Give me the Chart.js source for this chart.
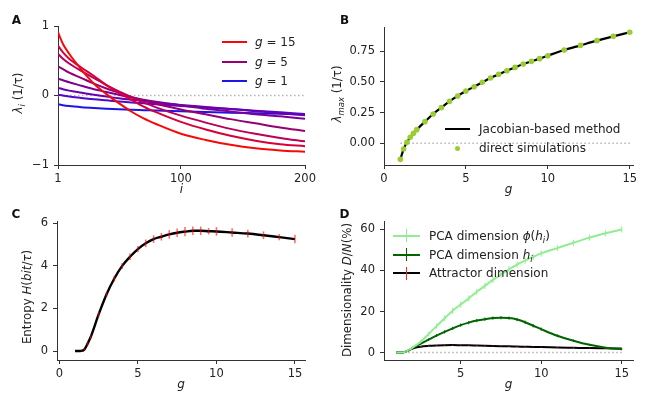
<!DOCTYPE html>
<html>
<head>
<meta charset="utf-8">
<title>Lyapunov spectra, entropy and dimensionality</title>
<script src="https://cdn.jsdelivr.net/npm/chart.js@4.4.1/dist/chart.umd.min.js"></script>
<style>
  body { margin: 0; background: #fff; }
  #fig { position: relative; width: 647px; height: 394px; overflow: hidden;
         font-family: "DejaVu Sans", sans-serif; font-size: 11.5px; color: #222; }
  #fig canvas { position: absolute; left: 0; top: 0; }
  .txt { position: absolute; white-space: nowrap; line-height: 1; font-size: 12px; transform: translateY(-50%); }
  .panel { position: absolute; font-weight: bold; font-size: 12px; line-height: 1; color: #111; transform: translate(-50%, -50%); }
  .ytitle { position: absolute; white-space: nowrap; line-height: 1; font-size: 11.8px; transform: translate(-50%, -50%) rotate(-90deg); }
  .swatch { position: absolute; height: 0; border-top: 2px solid; transform: translateY(-50%); }
  .tick { position: absolute; width: 0; border-left: 1.5px solid; }
  .dot { position: absolute; width: 5px; height: 5px; border-radius: 50%; background: #9acd32; }
  sub { font-size: 72%; vertical-align: -0.3em; line-height: 0; }
</style>
</head>
<body>
<div id="fig">
  <canvas id="chartA" width="647" height="394"></canvas>
  <canvas id="chartB" width="647" height="394"></canvas>
  <canvas id="chartC" width="647" height="394"></canvas>
  <canvas id="chartD" width="647" height="394"></canvas>

  <div class="panel" style="left:16.5px;top:19.5px">A</div>
  <div class="panel" style="left:344.5px;top:19.5px">B</div>
  <div class="panel" style="left:16px;top:213.5px">C</div>
  <div class="panel" style="left:344.5px;top:213.5px">D</div>

  <div class="ytitle" style="left:19px;top:93px"><i>λ<sub>i</sub></i> (1/τ)</div>
  <div class="ytitle" style="left:338px;top:94px"><i>λ<sub>max</sub></i> (1/τ)</div>
  <div class="ytitle" style="left:28px;top:297px">Entropy <i>H</i>(<i>bit</i>/<i>τ</i>)</div>
  <div class="ytitle" style="left:348px;top:290px">Dimensionality <i>D</i>/<i>N</i>(%)</div>

  <!-- legend A -->
  <div class="swatch" style="left:222px;top:42px;width:25px;border-color:rgb(245,10,10)"></div>
  <div class="txt" style="left:255px;top:42px"><i>g</i> = 15</div>
  <div class="swatch" style="left:222px;top:62px;width:25px;border-color:rgb(150,0,115)"></div>
  <div class="txt" style="left:255px;top:62px"><i>g</i> = 5</div>
  <div class="swatch" style="left:222px;top:81px;width:25px;border-color:rgb(30,20,230)"></div>
  <div class="txt" style="left:255px;top:81px"><i>g</i> = 1</div>

  <!-- legend B -->
  <div class="swatch" style="left:445px;top:129px;width:25px;border-color:#000"></div>
  <div class="txt" style="left:479px;top:129px">Jacobian-based method</div>
  <div class="dot" style="left:454.5px;top:145.5px"></div>
  <div class="txt" style="left:479px;top:148px">direct simulations</div>

  <!-- legend D -->
  <div class="swatch" style="left:393px;top:236px;width:27px;border-color:#90ee90"></div>
  <div class="tick" style="left:406px;top:229px;height:13px;border-color:#90ee90"></div>
  <div class="txt" style="left:429px;top:236px">PCA dimension <i>ϕ</i>(<i>h<sub>i</sub></i>)</div>
  <div class="swatch" style="left:393px;top:254.5px;width:27px;border-color:#006400"></div>
  <div class="tick" style="left:406px;top:248px;height:13px;border-color:#006400"></div>
  <div class="txt" style="left:429px;top:254.5px">PCA dimension <i>h<sub>i</sub></i></div>
  <div class="swatch" style="left:393px;top:273px;width:27px;border-color:#000"></div>
  <div class="tick" style="left:406px;top:266.5px;height:13px;border-color:#ff2020"></div>
  <div class="txt" style="left:429px;top:273px">Attractor dimension</div>
</div>

<script>
// ---- data ----

// panel A: Lyapunov spectra, value of lambda_i at neuron index i
const iIdx = [1, 5, 10, 20, 30, 40, 50, 60, 70, 80, 100, 120, 140, 160, 180, 200];
const gA = [1, 1.5, 2, 3, 5, 8, 10, 15];
const lamG1   = [-0.125, -0.14, -0.152, -0.168, -0.18, -0.19, -0.198, -0.205, -0.211, -0.217, -0.228, -0.238, -0.247, -0.255, -0.263, -0.272];
const lamG1p5 = [0.01, 0.0, -0.015, -0.035, -0.055, -0.07, -0.085, -0.10, -0.113, -0.126, -0.15, -0.172, -0.195, -0.218, -0.242, -0.268];
const lamG2   = [0.11, 0.09, 0.07, 0.04, 0.01, -0.015, -0.04, -0.06, -0.08, -0.10, -0.135, -0.165, -0.195, -0.225, -0.255, -0.285];
const lamG3   = [0.24, 0.22, 0.19, 0.14, 0.09, 0.05, 0.01, -0.03, -0.06, -0.09, -0.14, -0.19, -0.23, -0.27, -0.30, -0.335];
const lamG5   = [0.42, 0.38, 0.33, 0.25, 0.17, 0.10, 0.04, -0.02, -0.07, -0.12, -0.20, -0.27, -0.34, -0.40, -0.46, -0.51];
const lamG8   = [0.60, 0.53, 0.46, 0.35, 0.25, 0.15, 0.06, -0.02, -0.10, -0.17, -0.29, -0.39, -0.48, -0.55, -0.61, -0.66];
const lamG10  = [0.72, 0.62, 0.53, 0.40, 0.28, 0.15, 0.04, -0.06, -0.16, -0.24, -0.38, -0.49, -0.58, -0.65, -0.70, -0.73];
const lamG15  = [0.91, 0.74, 0.60, 0.37, 0.17, 0.02, -0.11, -0.23, -0.33, -0.41, -0.55, -0.64, -0.71, -0.76, -0.79, -0.81];
const spectraA = [lamG1, lamG1p5, lamG2, lamG3, lamG5, lamG8, lamG10, lamG15];

// panels B, C, D share the same gain grid
const gGrid = [1, 1.2, 1.4, 1.6, 1.8, 2, 2.5, 3, 3.5, 4, 4.5, 5, 5.5, 6, 6.5, 7, 7.5, 8, 8.5, 9, 9.5, 10, 11, 12, 13, 14, 15];

// panel B: largest Lyapunov exponent
const lamMaxJac = [-0.13, -0.046, 0.008, 0.049, 0.081, 0.111, 0.176, 0.238, 0.29, 0.341, 0.385, 0.425, 0.46, 0.496, 0.531, 0.561, 0.59, 0.617, 0.644, 0.666, 0.688, 0.712, 0.758, 0.796, 0.834, 0.869, 0.902];
const lamMaxSim = [-0.13, -0.046, 0.008, 0.049, 0.081, 0.111, 0.176, 0.238, 0.29, 0.341, 0.385, 0.425, 0.46, 0.496, 0.531, 0.561, 0.59, 0.617, 0.644, 0.666, 0.688, 0.712, 0.758, 0.796, 0.834, 0.869, 0.902];

// panel C: entropy rate and its error
const entropy    = [0, 0, 0.01, 0.08, 0.35, 0.67, 1.72, 2.66, 3.41, 4.0, 4.43, 4.79, 5.06, 5.26, 5.37, 5.48, 5.56, 5.61, 5.65, 5.65, 5.63, 5.62, 5.57, 5.52, 5.44, 5.35, 5.26];
const entropyErr = [0, 0, 0.02, 0.05, 0.08, 0.1, 0.12, 0.12, 0.14, 0.14, 0.15, 0.15, 0.18, 0.18, 0.18, 0.2, 0.2, 0.22, 0.2, 0.2, 0.15, 0.2, 0.2, 0.18, 0.18, 0.15, 0.2];

// panel D: dimensionality in percent of N
const pcaPhi    = [0, 0, 0.1, 0.5, 1.3, 2.4, 5.2, 9.0, 12.9, 16.7, 20.4, 23.4, 26.4, 29.6, 32.5, 35.4, 38.0, 40.6, 42.9, 44.8, 46.6, 48.3, 50.9, 53.5, 56.0, 58.1, 60.0];
const pcaPhiErr = [0, 0, 0, 0.2, 0.4, 0.6, 0.8, 1.0, 1.2, 1.4, 1.5, 1.5, 1.5, 1.5, 1.5, 1.5, 1.5, 1.5, 1.5, 1.5, 1.5, 1.5, 1.5, 1.5, 1.5, 1.5, 1.5];
const pcaH      = [0, 0, 0.1, 0.5, 1.2, 2.2, 4.3, 6.3, 8.3, 10.1, 11.8, 13.4, 14.6, 15.6, 16.3, 16.8, 17.0, 16.8, 16.1, 14.8, 13.1, 11.4, 8.2, 5.8, 3.8, 2.4, 1.6];
const pcaHErr   = [0, 0, 0, 0.2, 0.3, 0.4, 0.5, 0.6, 0.7, 0.8, 0.8, 0.8, 0.8, 0.8, 0.8, 0.8, 0.8, 0.8, 0.8, 0.8, 0.8, 0.8, 0.7, 0.6, 0.5, 0.4, 0.4];
const attractor    = [0, 0, 0.1, 0.5, 1.2, 2.0, 2.9, 3.3, 3.5, 3.6, 3.65, 3.6, 3.55, 3.45, 3.35, 3.25, 3.15, 3.05, 2.95, 2.85, 2.75, 2.7, 2.5, 2.35, 2.2, 2.1, 2.0];
const attractorErr = [0, 0, 0, 0.1, 0.1, 0.2, 0.2, 0.2, 0.2, 0.2, 0.2, 0.2, 0.2, 0.2, 0.2, 0.2, 0.2, 0.2, 0.2, 0.2, 0.2, 0.2, 0.2, 0.2, 0.2, 0.2, 0.2];

// tick values and labels
const ticksAx = [1, 100, 200],        labelsAx = ['1', '100', '200'];
const ticksAy = [-1, 0, 1],           labelsAy = ['\u22121', '0', '1'];
const ticksBx = [0, 5, 10, 15],       labelsBx = ['0', '5', '10', '15'];
const ticksBy = [0, 0.25, 0.5, 0.75], labelsBy = ['0.00', '0.25', '0.50', '0.75'];
const ticksCx = [0, 5, 10, 15],       labelsCx = ['0', '5', '10', '15'];
const ticksCy = [0, 2, 4, 6],         labelsCy = ['0', '2', '4', '6'];
const ticksDx = [5, 10, 15],          labelsDx = ['5', '10', '15'];
const ticksDy = [0, 20, 40, 60],      labelsDy = ['0', '20', '40', '60'];

// ---- styling ----

const FONT = '"DejaVu Sans", sans-serif';
const INK = '#222';
const SPINE = '#333';
const COLORS_A = ['rgb(30,20,230)', 'rgb(80,10,200)', 'rgb(105,0,175)', 'rgb(125,0,150)',
                  'rgb(150,0,115)', 'rgb(185,0,90)', 'rgb(215,0,55)', 'rgb(245,10,10)'];

const pts = (xs, ys) => xs.map((x, j) => ({ x, y: ys[j] }));

// dotted zero line spanning the data range
function zeroLine(xs) {
  return {
    data: [{ x: xs[0], y: 0 }, { x: xs[xs.length - 1], y: 0 }],
    showLine: true, pointRadius: 0, borderColor: '#b3b3b3', borderWidth: 1.5,
    borderDash: [1.5, 2.5], order: 99,
  };
}

function curve(xs, ys, color, width, extra) {
  return Object.assign({
    data: pts(xs, ys), showLine: true, pointRadius: 0, borderColor: color,
    borderWidth: width, cubicInterpolationMode: 'monotone', fill: false,
  }, extra || {});
}

function xAxis(min, max, ticks, labels, title) {
  return {
    type: 'linear', min, max,
    afterBuildTicks: s => { s.ticks = ticks.map(v => ({ value: v })); },
    afterFit: s => { s.height = 32; },
    ticks: { callback: (v, i) => labels[i], color: INK, font: { family: FONT, size: 11.5 },
             padding: 3, maxRotation: 0, autoSkip: false },
    grid: { drawOnChartArea: false, drawTicks: true, tickLength: 4, color: SPINE },
    border: { color: SPINE, width: 1 },
    title: { display: true, text: title, color: INK, padding: 0,
             font: { family: FONT, size: 12, style: 'italic' } },
  };
}

function yAxis(min, max, ticks, labels) {
  return {
    type: 'linear', min, max,
    afterBuildTicks: s => { s.ticks = ticks.map(v => ({ value: v })); },
    afterFit: s => { s.width = 50; },
    ticks: { callback: (v, i) => labels[i], color: INK, font: { family: FONT, size: 11.5 },
             padding: 5, autoSkip: false },
    grid: { drawOnChartArea: false, drawTicks: true, tickLength: 4, color: SPINE },
    border: { color: SPINE, width: 1 },
  };
}

// vertical error bars drawn through the chart's own scales
const errorBars = {
  id: 'errorBars',
  afterDatasetsDraw(chart) {
    const { ctx, scales: { x, y } } = chart;
    chart.data.datasets.forEach(ds => {
      if (!ds.errors) return;
      ctx.save();
      ctx.strokeStyle = ds.errorColor;
      ctx.lineWidth = ds.errorWidth || 1.2;
      ds.data.forEach((p, j) => {
        const e = ds.errors[j];
        if (!e) return;
        const px = x.getPixelForValue(p.x);
        ctx.beginPath();
        ctx.moveTo(px, y.getPixelForValue(p.y - e));
        ctx.lineTo(px, y.getPixelForValue(p.y + e));
        ctx.stroke();
      });
      ctx.restore();
    });
  }
};

function makeChart(id, datasets, scales, pad) {
  return new Chart(document.getElementById(id), {
    type: 'scatter',
    data: { datasets },
    options: {
      responsive: false, animation: false, devicePixelRatio: 1,
      layout: { padding: pad },
      plugins: { legend: { display: false }, tooltip: { enabled: false } },
      scales,
    },
    plugins: [errorBars],
  });
}

// ---- panel A ----
const dsA = spectraA.map((ys, k) =>
  curve(iIdx, ys, COLORS_A[k], 2, { order: spectraA.length - k, label: 'g = ' + gA[k] }));
dsA.push(zeroLine(iIdx));
makeChart('chartA', dsA,
  { x: xAxis(1, 200, ticksAx, labelsAx, 'i'), y: yAxis(-1, 1, ticksAy, labelsAy) },
  { left: 8, top: 26, right: 342, bottom: 197 });

// ---- panel B ----
makeChart('chartB', [
  { data: pts(gGrid, lamMaxSim), showLine: false, pointRadius: 2.8, pointBorderWidth: 0,
    pointBackgroundColor: '#9acd32', label: 'direct simulations', order: 0 },
  curve(gGrid, lamMaxJac, '#000', 2.2, { label: 'Jacobian-based method', order: 1 }),
  zeroLine(gGrid),
], { x: xAxis(0, 15.2, ticksBx, labelsBx, 'g'), y: yAxis(-0.176, 0.945, ticksBy, labelsBy) },
  { left: 334, top: 27, right: 14, bottom: 197 });

// ---- panel C ----
makeChart('chartC', [
  curve(gGrid, entropy, '#000', 2.4, { errors: entropyErr, errorColor: 'rgba(255,0,0,0.6)', errorWidth: 1.5 }),
], { x: xAxis(-0.15, 15.64, ticksCx, labelsCx, 'g'), y: yAxis(-0.42, 6.11, ticksCy, labelsCy) },
  { left: 7, top: 221, right: 342, bottom: 2 });

// ---- panel D ----
makeChart('chartD', [
  curve(gGrid, attractor, '#000', 2, { label: 'Attractor dimension', order: 2,
        errors: attractorErr, errorColor: '#ff2020', errorWidth: 1 }),
  curve(gGrid, pcaH, '#006400', 2, { label: 'PCA dimension h', order: 1,
        errors: pcaHErr, errorColor: '#006400', errorWidth: 1 }),
  curve(gGrid, pcaPhi, '#90ee90', 2, { label: 'PCA dimension phi(h)', order: 0,
        errors: pcaPhiErr, errorColor: '#90ee90', errorWidth: 1 }),
  zeroLine(gGrid),
], { x: xAxis(0.236, 15.7, ticksDx, labelsDx, 'g'), y: yAxis(-3.6, 64.1, ticksDy, labelsDy) },
  { left: 334, top: 221, right: 14, bottom: 2 });
</script>
</body>
</html>
